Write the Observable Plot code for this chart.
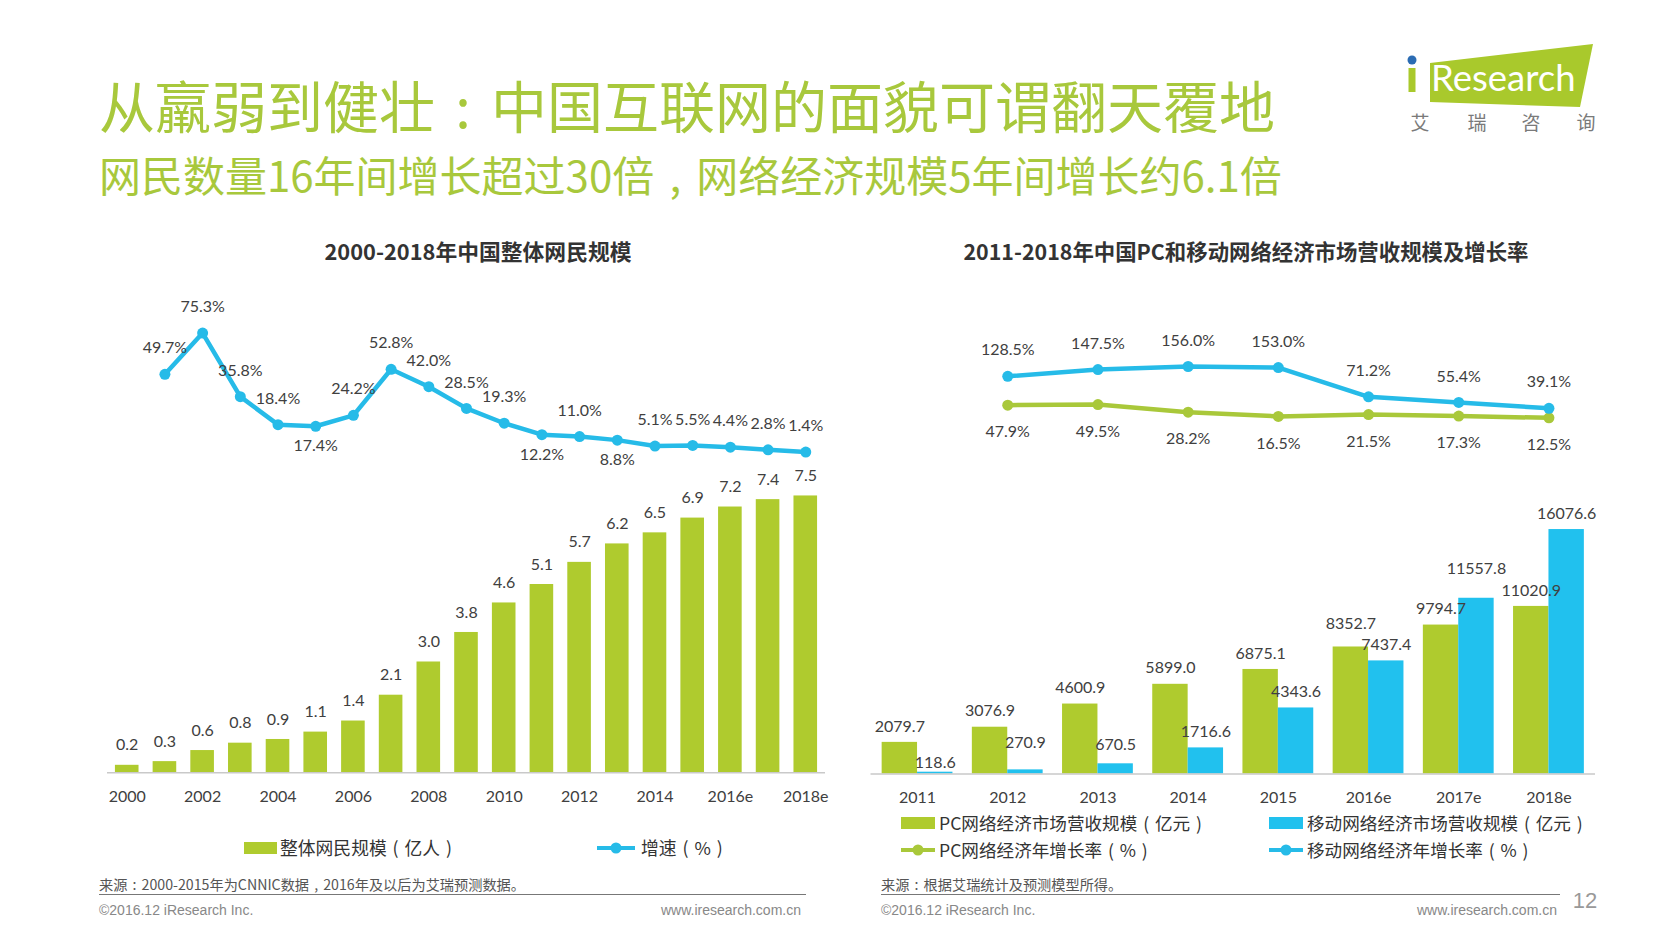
<!DOCTYPE html>
<html>
<head>
<meta charset="utf-8">
<script src="https://cdn.jsdelivr.net/npm/d3@7"></script>
<script src="https://cdn.jsdelivr.net/npm/@observablehq/plot@0.6"></script>
<style>
  html, body { margin: 0; padding: 0; background: #fff; }
  body { width: 1680px; height: 945px; position: relative; overflow: hidden; font-family: "Noto Sans CJK SC", sans-serif; }
  .t { position: absolute; white-space: nowrap; line-height: 1; }
  .p { display: inline-block; width: 1em; text-align: center; }
  svg { overflow: visible; }
</style>
</head>
<body>
<script>
// ---------------- data ----------------
const netYears = ["2000","2001","2002","2003","2004","2005","2006","2007","2008","2009","2010","2011","2012","2013","2014","2015","2016e","2017e","2018e"];
const netUsers = [0.2,0.3,0.6,0.8,0.9,1.1,1.4,2.1,3.0,3.8,4.6,5.1,5.7,6.2,6.5,6.9,7.2,7.4,7.5];
const netGrowthYears = ["2001","2002","2003","2004","2005","2006","2007","2008","2009","2010","2011","2012","2013","2014","2015","2016e","2017e","2018e"];
const netGrowth = [49.7,75.3,35.8,18.4,17.4,24.2,52.8,42.0,28.5,19.3,12.2,11.0,8.8,5.1,5.5,4.4,2.8,1.4];
const netTickLabels = ["2000","2002","2004","2006","2008","2010","2012","2014","2016e","2018e"];

const ecoYears = ["2011","2012","2013","2014","2015","2016e","2017e","2018e"];
const pcRevenue = [2079.7,3076.9,4600.9,5899.0,6875.1,8352.7,9794.7,11020.9];
const mobileRevenue = [118.6,270.9,670.5,1716.6,4343.6,7437.4,11557.8,16076.6];
const ecoGrowthYears = ["2012","2013","2014","2015","2016e","2017e","2018e"];
const pcGrowth = [47.9,49.5,28.2,16.5,21.5,17.3,12.5];
const mobileGrowth = [128.5,147.5,156.0,153.0,71.2,55.4,39.1];

// ---------------- styles ----------------
const GREEN = "#afcb2e";
const BLUE = "#21c1ee";
const LINE_BLUE = "#26bbe8";
const LINE_GREEN = "#a9c83a";
const TXT = "#404040";
const NUMFONT = "Lato, 'Noto Sans CJK SC', sans-serif";
const netLabelBelow = new Set(["2005","2011","2013"]);
// label nudges (pixels) as placed by hand in the original slide
const pcLabelNudge = {"2016e": -7};
const mobileLabelNudge = {"2011": 7, "2012": -11, "2013": -3, "2017e": -13};

// ---------------- helpers ----------------
function place(el, left, top) {
  el.style.position = "absolute";
  el.style.left = left + "px";
  el.style.top = top + "px";
  el.style.maxWidth = "none";
  el.style.background = "transparent";
  el.style.pointerEvents = "none";
  document.body.appendChild(el);
  return el;
}
const PUNCT = {"（": "(", "）": ")", "：": ":", "，": ","};
function cjkHtml(str) {
  return str.replace(/[&<>]/g, c => ({"&": "&amp;", "<": "&lt;", ">": "&gt;"}[c]))
            .replace(/[（）：，]/g, c => `<span class="p">${PUNCT[c]}</span>`);
}
function text(str, x, y, opts = {}) {
  const d = document.createElement("div");
  d.className = "t";
  d.innerHTML = cjkHtml(str);
  const anchor = opts.anchor || "start";
  d.style.left = x + "px";
  d.style.top = y + "px";
  const tx = anchor === "middle" ? "-50%" : anchor === "end" ? "-100%" : "0";
  d.style.transform = `translate(${tx},-50%)`;
  d.style.fontSize = (opts.size || 16) + "px";
  d.style.color = opts.color || TXT;
  if (opts.weight) d.style.fontWeight = opts.weight;
  if (opts.family) d.style.fontFamily = opts.family;
  document.body.appendChild(d);
  return d;
}
function hline(x0, x1, y, color, w) {
  const d = document.createElement("div");
  d.style.cssText = `position:absolute;left:${x0}px;top:${y}px;width:${x1 - x0}px;height:0;border-top:${w}px solid ${color};`;
  document.body.appendChild(d);
}
function swatchRect(x, y, w, h, color) {
  const d = document.createElement("div");
  d.style.cssText = `position:absolute;left:${x}px;top:${y - h / 2}px;width:${w}px;height:${h}px;background:${color};`;
  document.body.appendChild(d);
}
function swatchLine(x, y, w, color) {
  const ns = "http://www.w3.org/2000/svg";
  const s = document.createElementNS(ns, "svg");
  s.setAttribute("width", w + 12); s.setAttribute("height", 14);
  s.style.cssText = `position:absolute;left:${x - 6}px;top:${y - 7}px;`;
  s.innerHTML = `<line x1="6" y1="7" x2="${w + 6}" y2="7" stroke="${color}" stroke-width="4"/><circle cx="${6 + w / 2}" cy="7" r="5.5" fill="${color}"/>`;
  document.body.appendChild(s);
}
// value labels: one text mark for the default offset, one per hand-nudged category
function nudgedLabels(data, field, dx, baseDy, nudges) {
  const common = {x: "year", y: field, text: d => d[field].toFixed(1), dx, fill: TXT, fontSize: 16};
  const marks = [Plot.text(data, {...common, dy: baseDy, filter: d => !(d.year in nudges)})];
  for (const [year, off] of Object.entries(nudges)) {
    marks.push(Plot.text(data, {...common, dy: baseDy + off, filter: d => d.year === year}));
  }
  return marks;
}

// ---------------- header ----------------
text("从羸弱到健壮：中国互联网的面貌可谓翻天覆地", 99, 104, {size: 56, color: "#a8c83c"});
text("网民数量16年间增长超过30倍，网络经济规模5年间增长约6.1倍", 99, 174, {size: 42, color: "#a8c83c"});

// logo
(function () {
  const ns = "http://www.w3.org/2000/svg";
  const s = document.createElementNS(ns, "svg");
  s.setAttribute("width", 220); s.setAttribute("height", 110);
  s.style.cssText = "position:absolute;left:1390px;top:30px;";
  s.innerHTML = `
    <polygon points="40,33 203,14 190,77 40,72" fill="#a9c92c"/>
    <circle cx="22" cy="30" r="4.5" fill="#2b6cb3"/>
    <rect x="18.5" y="38" width="7" height="24" fill="#a9c92c"/>
    <text x="41" y="61" font-family="Lato, 'Open Sans', sans-serif" font-size="36.5" fill="#fff">Research</text>`;
  document.body.appendChild(s);
})();
text("艾", 1420, 121, {size: 19, color: "#7a7a7a", anchor: "middle"});
text("瑞", 1477, 121, {size: 19, color: "#7a7a7a", anchor: "middle"});
text("咨", 1531, 121, {size: 19, color: "#7a7a7a", anchor: "middle"});
text("询", 1586, 121, {size: 19, color: "#7a7a7a", anchor: "middle"});

// chart titles
text("2000-2018年中国整体网民规模", 478, 251, {size: 21.8, weight: 700, color: "#333", anchor: "middle"});
text("2011-2018年中国PC和移动网络经济市场营收规模及增长率", 1246, 251, {size: 21.4, weight: 700, color: "#333", anchor: "middle"});

// ---------------- left chart ----------------
const netData = netYears.map((year, i) => ({year, users: netUsers[i]}));
const netGrowthData = netGrowthYears.map((year, i) => ({year, growth: netGrowth[i]}));
const LX0 = 107, LX1 = 825, LPI = 0.374, LPO = 0.21;
const leftX = {type: "band", domain: netYears, paddingInner: LPI, paddingOuter: LPO, align: 0.5, round: false, axis: null};

const leftBars = Plot.plot({
  width: LX1 + 20, height: 380.2,
  marginLeft: LX0, marginRight: 20, marginTop: 40, marginBottom: 45,
  x: leftX,
  y: {domain: [0, 8], axis: null},
  style: {fontFamily: NUMFONT, background: "transparent", overflow: "visible"},
  marks: [
    Plot.barY(netData, {x: "year", y: "users", fill: GREEN}),
    Plot.ruleY([0], {stroke: "#c9c9c9", strokeWidth: 1.5}),
    Plot.text(netData, {x: "year", y: "users", text: d => d.users.toFixed(1), dy: -20, fill: TXT, fontSize: 16}),
    Plot.text(netTickLabels, {x: d => d, frameAnchor: "bottom", dy: 29, fill: TXT, fontSize: 16})
  ]
});
place(leftBars, 0, 437);

const leftLine = Plot.plot({
  width: LX1 + 20, height: 208.8,
  marginLeft: LX0, marginRight: 20, marginTop: 40, marginBottom: 40,
  x: leftX,
  y: {domain: [0, 80], axis: null},
  style: {fontFamily: NUMFONT, background: "transparent", overflow: "visible"},
  marks: [
    Plot.line(netGrowthData, {x: "year", y: "growth", stroke: LINE_BLUE, strokeWidth: 4.5}),
    Plot.dot(netGrowthData, {x: "year", y: "growth", r: 5.5, fill: LINE_BLUE}),
    Plot.text(netGrowthData, {x: "year", y: "growth", text: d => d.growth.toFixed(1) + "%",
      fill: TXT, fontSize: 16, filter: d => !netLabelBelow.has(d.year), dy: -26}),
    Plot.text(netGrowthData, {x: "year", y: "growth", text: d => d.growth.toFixed(1) + "%",
      fill: TXT, fontSize: 16, filter: d => netLabelBelow.has(d.year), dy: 20})
  ]
});
place(leftLine, 0, 284.8);

// left legend
swatchRect(244, 848, 33, 12, GREEN);
text("整体网民规模（亿人）", 280, 848, {size: 17.8, color: "#333"});
swatchLine(597, 848, 38, LINE_BLUE);
text("增速（%）", 641, 848, {size: 17.8, color: "#333"});

// ---------------- right chart ----------------
const ecoData = ecoYears.map((year, i) => ({year, pc: pcRevenue[i], mobile: mobileRevenue[i]}));
const pcGrowthData = ecoGrowthYears.map((year, i) => ({year, growth: pcGrowth[i]}));
const mobileGrowthData = ecoGrowthYears.map((year, i) => ({year, growth: mobileGrowth[i]}));
const RX0 = 870.5, RX1 = 1595, RPI = 0.215, RPO = 0.1235;
const rStep = (RX1 - RX0) / (ecoYears.length - RPI + 2 * RPO);
const rBw = rStep * (1 - RPI);
const rightX = {type: "band", domain: ecoYears, paddingInner: RPI, paddingOuter: RPO, align: 0.5, round: false, axis: null};

const rightBars = Plot.plot({
  width: RX1 + 30, height: 343.5,
  marginLeft: RX0, marginRight: 30, marginTop: 40, marginBottom: 45,
  x: rightX,
  y: {domain: [0, 17000], axis: null},
  style: {fontFamily: NUMFONT, background: "transparent", overflow: "visible"},
  marks: [
    Plot.barY(ecoData, {x: "year", y: "pc", fill: GREEN, insetRight: rBw / 2}),
    Plot.barY(ecoData, {x: "year", y: "mobile", fill: BLUE, insetLeft: rBw / 2}),
    Plot.ruleY([0], {stroke: "#c9c9c9", strokeWidth: 1.5}),
    ...nudgedLabels(ecoData, "pc", -rBw / 4, -16, pcLabelNudge),
    ...nudgedLabels(ecoData, "mobile", rBw / 4, -16, mobileLabelNudge),
    Plot.text(ecoYears, {x: d => d, frameAnchor: "bottom", dy: 28.5, fill: TXT, fontSize: 16})
  ]
});
place(rightBars, 0, 474.5);

const rightLine = Plot.plot({
  width: RX1 + 30, height: 140.8,
  marginLeft: RX0, marginRight: 30, marginTop: 40, marginBottom: 40,
  x: rightX,
  y: {domain: [0, 170], axis: null},
  style: {fontFamily: NUMFONT, background: "transparent", overflow: "visible"},
  marks: [
    Plot.line(pcGrowthData, {x: "year", y: "growth", stroke: LINE_GREEN, strokeWidth: 4.5}),
    Plot.dot(pcGrowthData, {x: "year", y: "growth", r: 5.5, fill: LINE_GREEN}),
    Plot.line(mobileGrowthData, {x: "year", y: "growth", stroke: LINE_BLUE, strokeWidth: 4.5}),
    Plot.dot(mobileGrowthData, {x: "year", y: "growth", r: 5.5, fill: LINE_BLUE}),
    Plot.text(mobileGrowthData, {x: "year", y: "growth", text: d => d.growth.toFixed(1) + "%", dy: -26, fill: TXT, fontSize: 16}),
    Plot.text(pcGrowthData, {x: "year", y: "growth", text: d => d.growth.toFixed(1) + "%", dy: 27, fill: TXT, fontSize: 16})
  ]
});
place(rightLine, 0, 320.6);

// right legend
swatchRect(901, 823, 34, 12, GREEN);
text("PC网络经济市场营收规模（亿元）", 939, 823, {size: 17.6, color: "#333"});
swatchRect(1269, 823, 34, 12, BLUE);
text("移动网络经济市场营收规模（亿元）", 1307, 823, {size: 17.6, color: "#333"});
swatchLine(901, 850, 34, LINE_GREEN);
text("PC网络经济年增长率（%）", 939, 850, {size: 17.6, color: "#333"});
swatchLine(1269, 850, 34, LINE_BLUE);
text("移动网络经济年增长率（%）", 1307, 850, {size: 17.6, color: "#333"});

// ---------------- footer ----------------
const FOOTFONT = "'Liberation Sans', Arial, sans-serif";
text("来源：2000-2015年为CNNIC数据，2016年及以后为艾瑞预测数据。", 99, 884, {size: 14.2, color: "#555"});
hline(99, 806, 894, "#777", 1);
text("©2016.12 iResearch Inc.", 99, 910, {size: 14, color: "#888", family: FOOTFONT});
text("www.iresearch.com.cn", 801, 910, {size: 14, color: "#888", anchor: "end", family: FOOTFONT});

text("来源：根据艾瑞统计及预测模型所得。", 881, 884, {size: 14.2, color: "#555"});
hline(881, 1560, 894, "#777", 1);
text("©2016.12 iResearch Inc.", 881, 910, {size: 14, color: "#888", family: FOOTFONT});
text("www.iresearch.com.cn", 1557, 910, {size: 14, color: "#888", anchor: "end", family: FOOTFONT});
text("12", 1585, 901, {size: 22, color: "#999", anchor: "middle", family: FOOTFONT});
</script>
</body>
</html>
